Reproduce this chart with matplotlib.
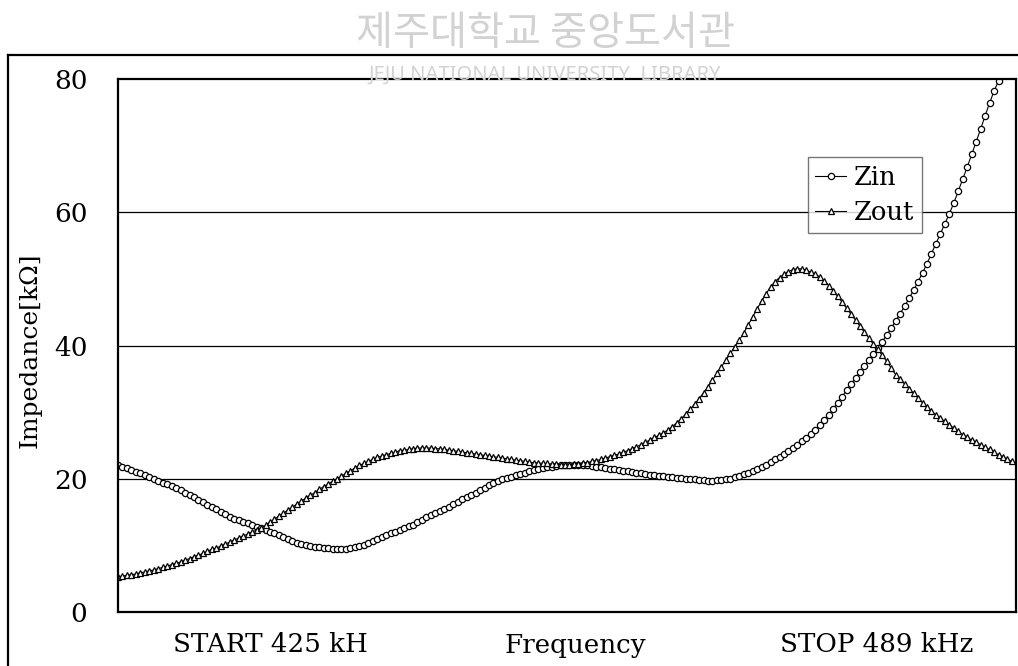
import matplotlib; matplotlib.use('Agg')
import matplotlib.pyplot as plt
from matplotlib.lines import Line2D
import numpy as np

plt.rcParams.update({
    'font.family': ['DejaVu Serif'],
    'font.size': 19,
})

# sweep 425 .. 489 kHz, 201 points
freq = np.linspace(425, 489, 201)

zin = [
    22.1, 21.8, 21.6, 21.3, 21.0, 20.8, 20.5, 20.2, 20.0, 19.7,
    19.4, 19.2, 18.9, 18.6, 18.3, 17.9, 17.5, 17.2, 16.8, 16.5,
    16.1, 15.7, 15.4, 15.0, 14.7, 14.3, 14.0, 13.8, 13.5, 13.3,
    13.0, 12.8, 12.6, 12.3, 12.0, 11.8, 11.5, 11.2, 10.9, 10.7,
    10.4, 10.2, 10.1, 9.9, 9.8, 9.7, 9.6, 9.6, 9.5, 9.5,
    9.5, 9.5, 9.6, 9.7, 9.9, 10.1, 10.3, 10.6, 10.9, 11.2,
    11.5, 11.8, 12.0, 12.3, 12.6, 12.9, 13.1, 13.5, 13.8, 14.2,
    14.5, 14.8, 15.2, 15.5, 15.8, 16.2, 16.5, 16.9, 17.2, 17.6,
    17.9, 18.3, 18.6, 19.0, 19.3, 19.6, 19.9, 20.1, 20.3, 20.5,
    20.7, 20.9, 21.1, 21.3, 21.4, 21.6, 21.7, 21.8, 21.9, 22.0,
    22.1, 22.1, 22.1, 22.1, 22.0, 22.0, 21.9, 21.8, 21.7, 21.6,
    21.5, 21.4, 21.3, 21.2, 21.1, 21.0, 20.9, 20.8, 20.7, 20.6,
    20.5, 20.4, 20.4, 20.3, 20.2, 20.1, 20.1, 20.0, 19.9, 19.9,
    19.8, 19.8, 19.7, 19.7, 19.8, 19.8, 19.9, 20.0, 20.2, 20.4,
    20.7, 20.9, 21.2, 21.5, 21.8, 22.1, 22.5, 22.9, 23.3, 23.7,
    24.1, 24.6, 25.1, 25.6, 26.1, 26.7, 27.3, 28.0, 28.8, 29.6,
    30.5, 31.4, 32.3, 33.3, 34.2, 35.1, 36.0, 36.9, 37.8, 38.7,
    39.6, 40.6, 41.6, 42.6, 43.7, 44.8, 45.9, 47.1, 48.3, 49.6,
    50.9, 52.3, 53.8, 55.3, 56.8, 58.3, 59.8, 61.4, 63.2, 65.0,
    66.8, 68.7, 70.6, 72.5, 74.5, 76.4, 78.2, 79.7, 81.5, 83.3,
    85.1,
]

zout = [
    5.3, 5.4, 5.5, 5.6, 5.7, 5.9, 6.0, 6.2, 6.3, 6.5,
    6.7, 6.9, 7.1, 7.3, 7.5, 7.8, 8.0, 8.3, 8.5, 8.8,
    9.1, 9.4, 9.6, 9.9, 10.2, 10.5, 10.8, 11.1, 11.4, 11.7,
    12.0, 12.3, 12.6, 13.0, 13.5, 13.9, 14.4, 14.8, 15.3, 15.7,
    16.2, 16.6, 17.1, 17.5, 17.9, 18.4, 18.8, 19.2, 19.6, 20.0,
    20.4, 20.8, 21.2, 21.6, 22.0, 22.3, 22.6, 22.9, 23.2, 23.4,
    23.6, 23.8, 24.0, 24.2, 24.3, 24.4, 24.5, 24.6, 24.6, 24.6,
    24.6, 24.5, 24.5, 24.4, 24.3, 24.2, 24.1, 24.0, 23.9, 23.8,
    23.7, 23.6, 23.5, 23.4, 23.3, 23.2, 23.1, 23.0, 22.9, 22.8,
    22.7, 22.6, 22.5, 22.4, 22.4, 22.3, 22.3, 22.2, 22.2, 22.1,
    22.1, 22.1, 22.2, 22.2, 22.3, 22.4, 22.6, 22.7, 22.9, 23.1,
    23.3, 23.5, 23.7, 24.0, 24.2, 24.5, 24.8, 25.1, 25.5, 25.8,
    26.2, 26.5, 26.9, 27.3, 27.8, 28.4, 29.0, 29.7, 30.4, 31.2,
    32.0, 32.9, 33.8, 34.8, 35.8, 36.8, 37.8, 38.8, 39.8, 40.8,
    41.9, 43.1, 44.3, 45.5, 46.7, 47.8, 48.8, 49.6, 50.2, 50.7,
    51.1, 51.4, 51.5, 51.5, 51.3, 51.0, 50.7, 50.3, 49.7, 49.0,
    48.2, 47.4, 46.5, 45.6, 44.7, 43.8, 42.9, 42.0, 41.1, 40.2,
    39.4, 38.5, 37.6, 36.6, 35.6, 34.9, 34.2, 33.5, 32.8, 32.1,
    31.4, 30.8, 30.1, 29.6, 29.1, 28.6, 28.1, 27.6, 27.1, 26.6,
    26.2, 25.8, 25.5, 25.1, 24.7, 24.4, 24.0, 23.6, 23.3, 22.9,
    22.6,
]

yticks = [0, 20, 40, 60, 80]
xlabels = ['START 425 kH', 'Frequency', 'STOP 489 kHz']

fig = plt.figure(figsize=(10.18, 6.66), dpi=100)
ax = fig.add_axes([118/1018, 54/666, 898/1018, 533/666])

ax.plot(freq, zin, '-o', color='black', lw=0.8, ms=4.5, mfc='white',
        mec='black', mew=0.9, label='Zin')
ax.plot(freq, zout, '-^', color='black', lw=0.8, ms=4.7, mfc='white',
        mec='black', mew=0.9, label='Zout')

ax.set_xlim(425, 489.29)
ax.set_ylim(0, 80)
ax.set_yticks(yticks)
ax.set_xticks([])
ax.tick_params(axis='y', length=0, pad=22)
for y in yticks[1:-1]:
    ax.axhline(y, color='black', lw=0.9, zorder=0)
for s in ax.spines.values():
    s.set_linewidth(1.6)
    s.set_color('black')

fig.text(30/1018, 1 - 350/666, 'Impedance[kΩ]', rotation=90, ha='center',
         va='center', fontsize=18)

for xp, t in zip([270, 575, 877], xlabels):
    fig.text(xp/1018, 1 - 645/666, t, ha='center', va='center', fontsize=18.8)

leg = ax.legend(loc='upper left', bbox_to_anchor=(0.768, 0.854),
                borderaxespad=0, frameon=True, fancybox=False,
                handlelength=1.2, handletextpad=0.3, labelspacing=0.4,
                borderpad=0.3, fontsize=18.5)
leg.get_frame().set_edgecolor('#555555')
leg.get_frame().set_linewidth(1.0)

# outer frame (left and top edges visible)
fig.add_artist(Line2D([8/1018, 8/1018], [0, 1 - 55/666], color='black', lw=1.6))
fig.add_artist(Line2D([8/1018, 1], [1 - 55/666, 1 - 55/666], color='black', lw=1.6))

# library watermark
fig.text(545/1018, 1 - 33/666, '제주대학교 중앙도서관', ha='center', va='center',
         fontsize=29, color='#d2d2d2', family=['Noto Sans CJK KR'], zorder=0)
fig.text(545/1018, 1 - 75/666, 'JEJU NATIONAL UNIVERSITY  LIBRARY', ha='center',
         va='center', fontsize=14.5, color='#d2d2d2', family=['Noto Sans'], zorder=0)

fig.savefig('out.png', dpi=100)
